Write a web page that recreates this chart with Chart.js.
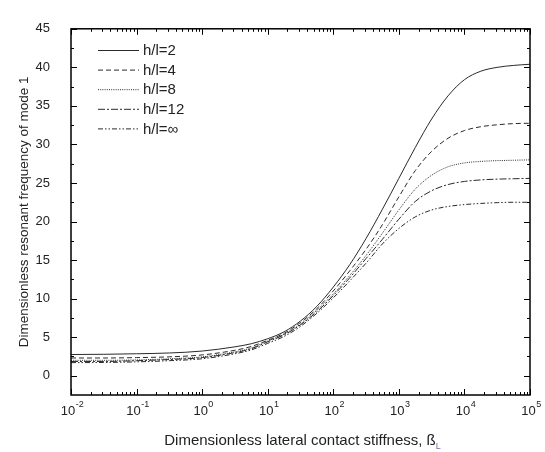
<!DOCTYPE html>
<html>
<head>
<meta charset="utf-8">
<script src="https://cdn.jsdelivr.net/npm/chart.js@4.4.0/dist/chart.umd.min.js"></script>
<style>
  html, body { margin: 0; padding: 0; background: #fff; }
</style>
</head>
<body>
<canvas id="chart" width="545" height="452"></canvas>
<script>
// lateral contact stiffness: half decades at the flat start, quarter decades through the rise
const beta = [0.01, 0.0316, 0.1, 0.316, 1, 3.16, 5.62, 10, 17.8, 31.6, 56.2, 100,
  178, 316, 562, 1000, 1778, 3162, 5623, 10000, 17783, 31623, 56234, 100000];

// dimensionless resonant frequency of mode 1
const hl2   = [2.75, 2.78, 2.85, 2.95, 3.2, 3.75, 4.15, 4.8, 5.7, 7.1, 9.0, 11.5, 14.4, 17.8, 21.6, 25.6, 29.6, 33.3, 36.3, 38.4, 39.5, 40.0, 40.25, 40.4];
const hl4   = [2.3, 2.3, 2.35, 2.45, 2.7, 3.3, 3.8, 4.6, 5.5, 6.9, 8.7, 11.0, 13.6, 16.4, 19.6, 23.2, 26.6, 29.1, 30.8, 31.8, 32.3, 32.55, 32.7, 32.75];
const hl8   = [2.0, 2.0, 2.05, 2.2, 2.45, 3.1, 3.6, 4.5, 5.4, 6.7, 8.5, 10.6, 13.0, 15.6, 18.5, 21.5, 24.2, 26.0, 27.1, 27.6, 27.8, 27.9, 27.95, 28.0];
const hl12  = [1.85, 1.85, 1.95, 2.1, 2.35, 3.0, 3.5, 4.4, 5.3, 6.6, 8.3, 10.4, 12.7, 15.2, 17.7, 20.3, 22.6, 24.0, 24.8, 25.2, 25.4, 25.5, 25.55, 25.6];
const hlInf = [1.7, 1.72, 1.8, 1.95, 2.2, 2.85, 3.35, 4.2, 5.1, 6.4, 8.1, 10.1, 12.3, 14.6, 17.1, 19.1, 20.6, 21.5, 21.95, 22.2, 22.35, 22.45, 22.5, 22.5];

const seriesLabels = ['h/l=2', 'h/l=4', 'h/l=8', 'h/l=12', 'h/l=\u221E'];
const seriesDash = [[], [5, 3], [1, 1.2], [7, 2, 2, 2], [5, 2, 1.5, 2, 1.5, 2]];

// axis ticks
const xTickValues = [0.01, 0.1, 1, 10, 100, 1000, 10000, 100000];
const xTickExp = ['-2', '-1', '0', '1', '2', '3', '4', '5'];
const yTickValues = [0, 5, 10, 15, 20, 25, 30, 35, 40, 45];

const textColor = '#222';
const lineColor = '#2a2a2a';
const fontFam = '"Liberation Sans", Arial, sans-serif';

const toPoints = (vals) => vals.map((v, i) => ({ x: beta[i], y: v }));
const allSeries = [hl2, hl4, hl8, hl12, hlInf];

// frame, inward ticks on all four sides, x labels with superscripts, legend, x title
const framePlugin = {
  id: 'framePlugin',
  afterDraw(chart) {
    const { ctx, chartArea: a, scales: { x, y } } = chart;
    ctx.save();
    ctx.strokeStyle = '#000';
    ctx.lineWidth = 1;

    const major = 6, minor = 3;
    // x ticks (bottom + top)
    xTickValues.forEach((d, k) => {
      const px = Math.round(x.getPixelForValue(d)) + 0.5;
      ctx.beginPath();
      ctx.moveTo(px, a.bottom); ctx.lineTo(px, a.bottom - major);
      ctx.moveTo(px, a.top); ctx.lineTo(px, a.top + major);
      ctx.stroke();
      if (k < xTickValues.length - 1) {
        for (let m = 2; m <= 9; m++) {
          const mx = Math.round(x.getPixelForValue(d * m)) + 0.5;
          ctx.beginPath();
          ctx.moveTo(mx, a.bottom); ctx.lineTo(mx, a.bottom - minor);
          ctx.moveTo(mx, a.top); ctx.lineTo(mx, a.top + minor);
          ctx.stroke();
        }
      }
    });
    // y ticks (left + right)
    yTickValues.forEach((v) => {
      const py = Math.round(y.getPixelForValue(v)) + 0.5;
      ctx.beginPath();
      ctx.moveTo(a.left, py); ctx.lineTo(a.left + major, py);
      ctx.moveTo(a.right, py); ctx.lineTo(a.right - major, py);
      ctx.stroke();
      const half = v - 2.5;
      if (half > y.min) {
        const hy = Math.round(y.getPixelForValue(half)) + 0.5;
        ctx.beginPath();
        ctx.moveTo(a.left, hy); ctx.lineTo(a.left + minor, hy);
        ctx.moveTo(a.right, hy); ctx.lineTo(a.right - minor, hy);
        ctx.stroke();
      }
    });
    // frame
    ctx.lineWidth = 1.5;
    ctx.strokeRect(a.left, a.top, a.right - a.left, a.bottom - a.top);

    // x tick labels 10^n
    ctx.fillStyle = textColor;
    ctx.textBaseline = 'alphabetic';
    xTickValues.forEach((d, k) => {
      const px = x.getPixelForValue(d);
      ctx.font = '13px ' + fontFam;
      const wBase = ctx.measureText('10').width;
      ctx.font = '9px ' + fontFam;
      const wExp = ctx.measureText(xTickExp[k]).width;
      const left = px - (wBase + wExp) / 2 + 1;
      ctx.font = '13px ' + fontFam;
      ctx.textAlign = 'left';
      ctx.fillText('10', left, a.bottom + 20);
      ctx.font = '9px ' + fontFam;
      ctx.fillText(xTickExp[k], left + wBase + 0.5, a.bottom + 12);
    });

    // x axis title with subscript L
    const title = 'Dimensionless lateral contact stiffness, \u00DF';
    ctx.font = '15px ' + fontFam;
    const tw = ctx.measureText(title).width;
    const tx = 300 - tw / 2;
    ctx.fillText(title, tx, a.bottom + 50);
    ctx.font = '9px ' + fontFam;
    ctx.fillStyle = '#7a6aa8';
    ctx.fillText('L', tx + tw, a.bottom + 54);

    // legend inside plot
    ctx.fillStyle = textColor;
    ctx.font = '15px ' + fontFam;
    ctx.textBaseline = 'middle';
    ctx.strokeStyle = lineColor;
    ctx.lineWidth = 1;
    chart.data.datasets.forEach((ds, i) => {
      const ly = 50 + i * 19.6;
      ctx.setLineDash(ds.borderDash || []);
      ctx.beginPath();
      ctx.moveTo(98, ly + 0.5); ctx.lineTo(139, ly + 0.5);
      ctx.stroke();
      ctx.setLineDash([]);
      ctx.fillText(ds.label, 143, ly + 1);
    });
    ctx.restore();
  }
};

new Chart(document.getElementById('chart'), {
  type: 'line',
  data: {
    datasets: allSeries.map((vals, i) => ({
      label: seriesLabels[i],
      data: toPoints(vals),
      borderColor: lineColor,
      borderWidth: 1,
      borderDash: seriesDash[i],
      pointRadius: 0,
      fill: false,
      cubicInterpolationMode: 'monotone'
    }))
  },
  options: {
    responsive: false,
    animation: false,
    devicePixelRatio: 1,
    layout: { padding: { left: 0, right: 15, top: 15, bottom: 0 } },
    plugins: {
      legend: { display: false },
      tooltip: { enabled: false }
    },
    scales: {
      x: {
        type: 'logarithmic',
        min: 0.01,
        max: 100000,
        grid: { display: false, drawTicks: false },
        border: { display: false },
        ticks: { display: false },
        afterBuildTicks: (s) => { s.ticks = xTickValues.map(v => ({ value: v })); },
        afterFit: (s) => { s.height = 57; }
      },
      y: {
        min: -2.5,
        max: 45,
        grid: { display: false, drawTicks: false },
        border: { display: false },
        ticks: {
          color: textColor,
          padding: 21,
          font: { family: fontFam, size: 13 }
        },
        title: {
          display: true,
          text: 'Dimensionless resonant frequency of mode 1',
          color: textColor,
          font: { family: fontFam, size: 13.5 },
          padding: { top: 16, bottom: 0 }
        },
        afterBuildTicks: (s) => { s.ticks = yTickValues.map(v => ({ value: v })); },
        afterFit: (s) => { s.width = 71; }
      }
    }
  },
  plugins: [framePlugin]
});
</script>
</body>
</html>
